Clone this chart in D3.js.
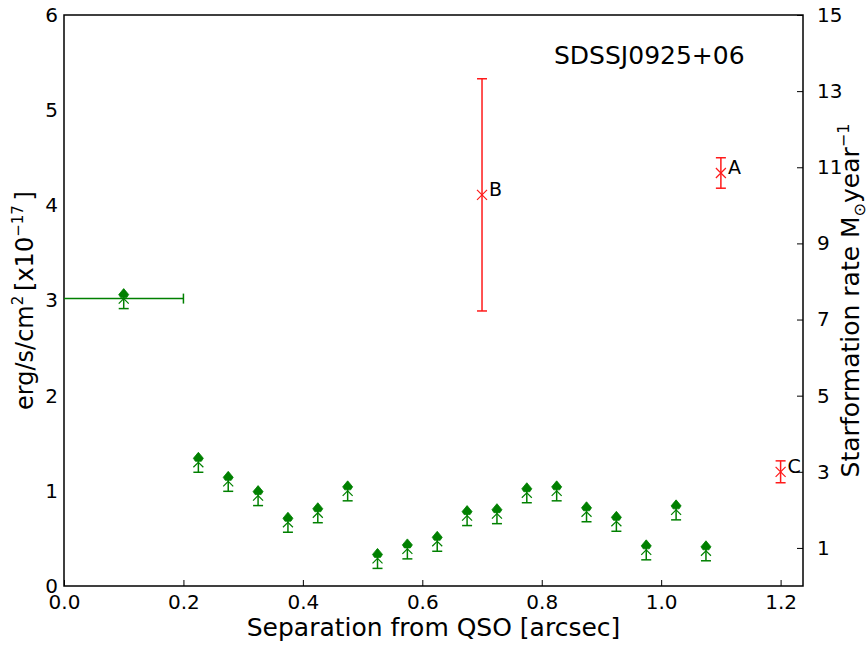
<!DOCTYPE html>
<html>
<head>
<meta charset="utf-8">
<script src="https://cdn.jsdelivr.net/npm/d3@7"></script>
<style>
  body { margin: 0; background: #fff; }
  text { font-family: "DejaVu Sans", sans-serif; fill: #000; }
</style>
</head>
<body>
<svg id="chart" width="868" height="647"></svg>
<script>
// Data
var green_x = [0.1, 0.225, 0.275, 0.325, 0.375, 0.425, 0.475, 0.525, 0.575, 0.625, 0.675, 0.725, 0.775, 0.825, 0.875, 0.925, 0.975, 1.025, 1.075];
var green_y = [3.02, 1.30, 1.10, 0.95, 0.67, 0.77, 1.00, 0.29, 0.39, 0.47, 0.74, 0.76, 0.98, 1.00, 0.78, 0.68, 0.38, 0.80, 0.37];
var green_err = 0.105;
var first_xerr = [0.0, 0.2];   // horizontal bar of the first point

var red_names = ['A', 'B', 'C'];
var red_x = [1.1, 0.7, 1.2];
var red_y = [4.34, 4.11, 1.20];
var red_err = [0.16, 1.22, 0.115];

var x_ticks = [0.0, 0.2, 0.4, 0.6, 0.8, 1.0, 1.2];
var left_ticks = [0, 1, 2, 3, 4, 5, 6];
var right_ticks = [1, 3, 5, 7, 9, 11, 13, 15];

// Layout (plot box edges)
var box_l = 64, box_r = 803, box_t = 15, box_b = 586;
var svg = d3.select("#chart");

var x = d3.scaleLinear().domain([0, 1.2375]).range([box_l, box_r]);
var y = d3.scaleLinear().domain([0, 6]).range([box_b, box_t]);
var y2 = d3.scaleLinear().domain([0, 15]).range([box_b, box_t]);

var green = "#008000";
var red = "#ff1a1a";

function styleTicks(g) {
  g.select(".domain").remove();
  g.selectAll("line").attr("stroke-width", 1);
  g.selectAll("text").attr("font-size", 20).attr("font-family", "DejaVu Sans");
}

// Bottom axis, ticks inside
svg.append("g")
  .attr("transform", "translate(0," + box_b + ")")
  .call(d3.axisBottom(x).tickValues(x_ticks).tickFormat(d3.format(".1f")).tickSizeInner(-6).tickSizeOuter(0).tickPadding(9))
  .call(styleTicks);

// Left axis, labels only
svg.append("g")
  .attr("transform", "translate(" + box_l + ",0)")
  .call(d3.axisLeft(y).tickValues(left_ticks).tickFormat(d3.format("d")).tickSize(0).tickPadding(6))
  .call(styleTicks);

// Right axis, ticks inside
svg.append("g")
  .attr("transform", "translate(" + box_r + ",0)")
  .call(d3.axisRight(y2).tickValues(right_ticks).tickFormat(d3.format("d")).tickSizeInner(-6).tickSizeOuter(0).tickPadding(14))
  .call(styleTicks);

// Frame
svg.append("rect")
  .attr("x", box_l).attr("y", box_t)
  .attr("width", box_r - box_l).attr("height", box_b - box_t)
  .attr("fill", "none").attr("stroke", "#000").attr("stroke-width", 1.5);

// Horizontal bar of the first green point
var hy = y(green_y[0]);
svg.append("line")
  .attr("x1", x(first_xerr[0])).attr("x2", x(first_xerr[1]))
  .attr("y1", hy).attr("y2", hy)
  .attr("stroke", green).attr("stroke-width", 1.5);
svg.append("line")
  .attr("x1", x(first_xerr[1])).attr("x2", x(first_xerr[1]))
  .attr("y1", hy - 5).attr("y2", hy + 5)
  .attr("stroke", green).attr("stroke-width", 1.5);

// Green limit markers
var gm = svg.append("g").selectAll("g")
  .data(green_x.map(function (d, i) { return [d, green_y[i]]; }))
  .enter().append("g")
  .attr("transform", function (d) { return "translate(" + x(d[0]) + "," + y(d[1]) + ")"; });

function capOffset(d) { return y(d[1] - green_err) - y(d[1]); }

gm.append("line")
  .attr("x1", 0).attr("x2", 0)
  .attr("y1", -9).attr("y2", capOffset)
  .attr("stroke", green).attr("stroke-width", 1.5);
gm.append("line")
  .attr("x1", -5).attr("x2", 5)
  .attr("y1", capOffset).attr("y2", capOffset)
  .attr("stroke", green).attr("stroke-width", 1.5);
gm.append("path")
  .attr("d", "M0,-10 L5,-4 L3,-1 L-3,-1 L-5,-4 Z")
  .attr("fill", green).attr("stroke", green).attr("stroke-width", 0.8);
gm.append("path")
  .attr("d", "M-5,5 L0,0 L5,5")
  .attr("fill", "none").attr("stroke", green).attr("stroke-width", 1.2);

// Red points with error bars
var rm = svg.append("g").selectAll("g")
  .data(red_x.map(function (d, i) { return { x: d, y: red_y[i], e: red_err[i], name: red_names[i] }; }))
  .enter().append("g");

rm.append("line")
  .attr("x1", function (d) { return x(d.x); }).attr("x2", function (d) { return x(d.x); })
  .attr("y1", function (d) { return y(d.y + d.e); }).attr("y2", function (d) { return y(d.y - d.e); })
  .attr("stroke", red).attr("stroke-width", 1.5);
[1, -1].forEach(function (s) {
  rm.append("line")
    .attr("x1", function (d) { return x(d.x) - 5; }).attr("x2", function (d) { return x(d.x) + 5; })
    .attr("y1", function (d) { return y(d.y + s * d.e); }).attr("y2", function (d) { return y(d.y + s * d.e); })
    .attr("stroke", red).attr("stroke-width", 1.5);
});
rm.append("path")
  .attr("d", function (d) {
    var cx = x(d.x), cy = y(d.y), r = 5;
    return "M" + (cx - r) + "," + (cy - r) + "L" + (cx + r) + "," + (cy + r) +
           "M" + (cx - r) + "," + (cy + r) + "L" + (cx + r) + "," + (cy - r);
  })
  .attr("stroke", red).attr("stroke-width", 1.2).attr("fill", "none");
rm.append("text")
  .attr("x", function (d) { return x(d.x) + 7; })
  .attr("y", function (d) { return y(d.y) + 1; })
  .attr("font-size", 19)
  .text(function (d) { return d.name; });

// Title inside the plot
svg.append("text")
  .attr("x", 554).attr("y", 64)
  .attr("font-size", 25)
  .text("SDSSJ0925+06");

// Axis labels
svg.append("text")
  .attr("x", (box_l + box_r) / 2).attr("y", 636)
  .attr("text-anchor", "middle").attr("font-size", 25)
  .text("Separation from QSO [arcsec]");

var ylab = svg.append("text")
  .attr("transform", "translate(33," + ((box_t + box_b) / 2) + ") rotate(-90)")
  .attr("text-anchor", "middle").attr("font-size", 24);
ylab.append("tspan").text("erg/s/cm");
ylab.append("tspan").attr("dy", -10).attr("font-size", 15).text("2");
ylab.append("tspan").attr("dy", 10).text("\u2009[x10");
ylab.append("tspan").attr("dy", -10).attr("font-size", 15).text("\u221217");
ylab.append("tspan").attr("dy", 10).text("\u2009]");

var y2lab = svg.append("text")
  .attr("transform", "translate(859," + ((box_t + box_b) / 2) + ") rotate(-90)")
  .attr("text-anchor", "middle").attr("font-size", 25);
y2lab.append("tspan").text("Starformation rate M");
y2lab.append("tspan").attr("dy", 6).attr("font-size", 16).text("\u2299");
y2lab.append("tspan").attr("dy", -6).text("year");
y2lab.append("tspan").attr("dy", -10).attr("font-size", 16).text("\u22121");
</script>
</body>
</html>
